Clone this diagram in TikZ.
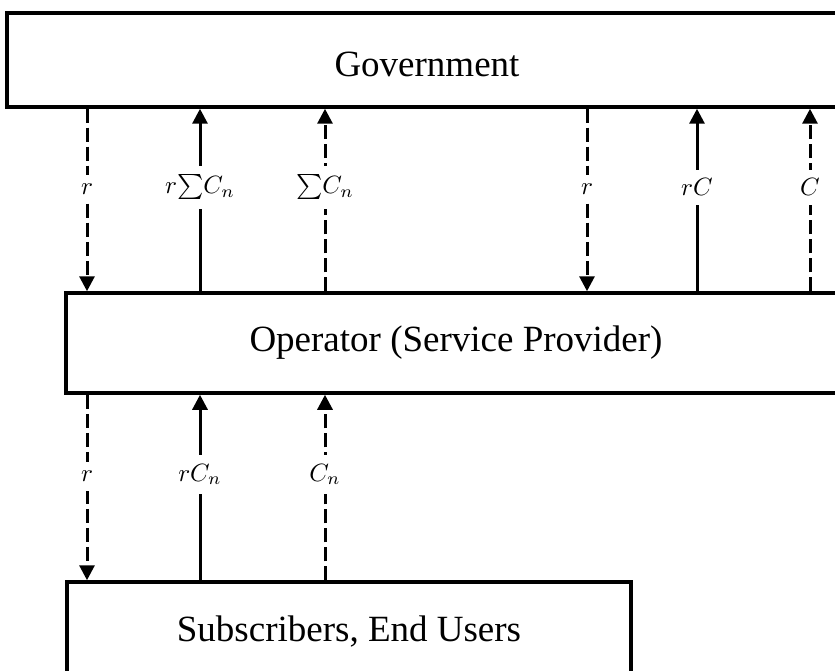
\documentclass[tikz,border=0pt]{standalone}
\usepackage{fontspec}
\setmainfont{Liberation Serif}
\usepackage{graphicx}
\usetikzlibrary{arrows.meta}
\newcommand{\bigmath}[1]{\scalebox{2.5}{$#1$}}
\tikzset{
  x=1pt, y=-1pt,
  box/.style={draw, line width=3.5pt, inner sep=0pt, font=\fontsize{37}{40}\selectfont},
  flow/.style={line width=3pt, -{Triangle[width=15pt,length=15pt]}},
  dflow/.style={flow, dash pattern=on 14pt off 5pt},
  lab/.style={fill=white, inner xsep=1pt, inner ysep=9pt}
}
\begin{document}
\begin{tikzpicture}
\useasboundingbox (0,0) rectangle (835,671);
\node[box, minimum width=840pt, minimum height=94pt, text height=34pt, text depth=0pt] (gov) at (427,60) {Government};
\node[box, minimum width=780pt, minimum height=100pt] (op) at (456,343) {Operator (Service Provider)};
\node[box, minimum width=564pt, minimum height=100pt] (sub) at (349,632) {Subscribers, End Users};
\coordinate (a) at (87,0);
\coordinate (b) at (200,0);
\coordinate (c) at (325,0);
\coordinate (d) at (587,0);
\coordinate (e) at (697,0);
\coordinate (f) at (810,0);
% government <-> operator
\draw[dflow] (gov.south -| a) -- node[lab, pos=0.44] (l1) {\bigmath{r}} (op.north -| a);
\draw[flow] (op.north -| b) -- node[lab, pos=0.57] (l2) {\bigmath{r{\textstyle\sum} C_n}} (gov.south -| b);
\draw[dflow] (op.north -| c) -- node[lab, pos=0.57] (l3) {\bigmath{{\textstyle\sum} C_n}} (gov.south -| c);
\draw[dflow] (gov.south -| d) -- node[lab, pos=0.44] (l4) {\bigmath{r}} (op.north -| d);
\draw[flow] (op.north -| e) -- node[lab, pos=0.57] (l5) {\bigmath{rC}} (gov.south -| e);
\draw[dflow] (op.north -| f) -- node[lab, pos=0.57] (l6) {\bigmath{C}} (gov.south -| f);
% operator <-> subscribers
\draw[dflow] (op.south -| a) -- node[lab, pos=0.44] (l7) {\bigmath{r}} (sub.north -| a);
\draw[flow] (sub.north -| b) -- node[lab, pos=0.57] (l8) {\bigmath{rC_n}} (op.south -| b);
\draw[dflow] (sub.north -| c) -- node[lab, pos=0.57] (l9) {\bigmath{C_n}} (op.south -| c);
\end{tikzpicture}
\end{document}
